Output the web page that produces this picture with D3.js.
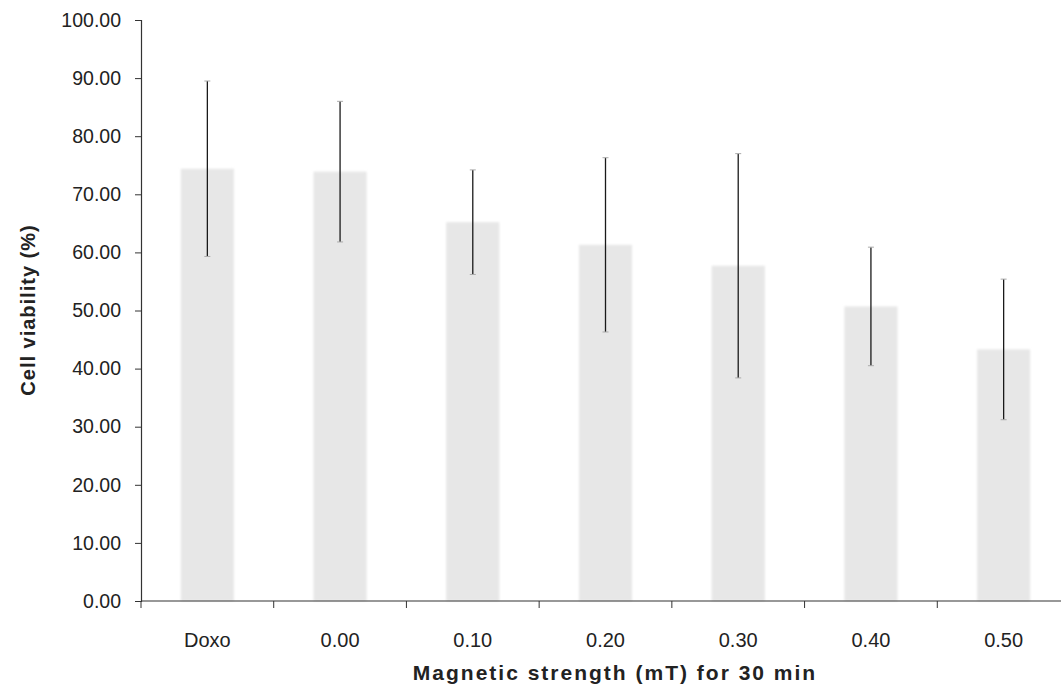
<!DOCTYPE html>
<html>
<head>
<meta charset="utf-8">
<script src="https://cdn.jsdelivr.net/npm/d3@7"></script>
<style>
  html, body { margin: 0; padding: 0; background: #fff; }
  svg { display: block; }
  text { font-family: "Liberation Sans", Arial, sans-serif; fill: #222; }
</style>
</head>
<body>
<svg id="chart" width="1061" height="685"></svg>
<script>
// Cell viability after 30 min magnetic exposure
const categories = ["Doxo", "0.00", "0.10", "0.20", "0.30", "0.40", "0.50"];
const means = [74.4, 73.9, 65.2, 61.3, 57.7, 50.7, 43.3];
const sds = [15.1, 12.1, 9.0, 15.0, 19.3, 10.2, 12.1];
const yTicks = [0, 10, 20, 30, 40, 50, 60, 70, 80, 90, 100];

const svg = d3.select("#chart");
const margin = { left: 141, right: -9, top: 20, bottom: 84 };
const W = 1061, H = 685;

const x = d3.scaleBand()
  .domain(categories)
  .range([margin.left, W - margin.right])
  .paddingInner(0.6)
  .paddingOuter(0.3);

const y = d3.scaleLinear()
  .domain([0, 100])
  .range([H - margin.bottom, margin.top]);

// soft edges on the bars
const defs = svg.append("defs");
defs.append("filter").attr("id", "soft")
  .attr("x", "-10%").attr("y", "-2%").attr("width", "120%").attr("height", "104%")
  .append("feGaussianBlur").attr("stdDeviation", 1);

const data = categories.map((c, i) => ({ c, m: means[i], s: sds[i] }));

// bars
svg.append("g").attr("filter", "url(#soft)")
  .selectAll("rect").data(data).join("rect")
  .attr("x", d => x(d.c))
  .attr("width", x.bandwidth())
  .attr("y", d => y(d.m))
  .attr("height", d => y(0) - y(d.m))
  .attr("fill", "#e7e7e7");

// error bars
const eb = svg.append("g").selectAll("g").data(data).join("g");
eb.append("line")
  .attr("x1", d => x(d.c) + x.bandwidth() / 2)
  .attr("x2", d => x(d.c) + x.bandwidth() / 2)
  .attr("y1", d => y(d.m + d.s))
  .attr("y2", d => y(d.m - d.s))
  .attr("stroke", "#1a1a1a").attr("stroke-width", 1.3);
eb.selectAll("line.cap")
  .data(d => [d.m + d.s, d.m - d.s].map(v => ({ c: d.c, v })))
  .join("line").attr("class", "cap")
  .attr("x1", d => x(d.c) + x.bandwidth() / 2 - 3)
  .attr("x2", d => x(d.c) + x.bandwidth() / 2 + 3)
  .attr("y1", d => y(d.v)).attr("y2", d => y(d.v))
  .attr("stroke", "#aaa").attr("stroke-width", 1);

// y axis
const yAxis = svg.append("g")
  .attr("transform", `translate(${margin.left},0)`)
  .call(d3.axisLeft(y).tickValues(yTicks).tickFormat(d3.format(".2f")).tickSize(6).tickPadding(14));
yAxis.select(".domain").attr("stroke", "#333").attr("stroke-width", 1.2);
yAxis.selectAll(".tick line").attr("stroke", "#333");
yAxis.selectAll(".tick text")
  .style("font-family", "'Liberation Sans', Arial, sans-serif")
  .style("font-size", "19.5px").attr("fill", "#222");

// x axis with ticks at category boundaries
const xAxisG = svg.append("g").attr("transform", `translate(0,${y(0)})`);
xAxisG.append("line")
  .attr("x1", margin.left).attr("x2", W)
  .attr("stroke", "#333").attr("stroke-width", 1.2);
const step = x.step();
const bounds = d3.range(categories.length).map(i => x(categories[i]) - step * 0.3);
xAxisG.selectAll("line.tk").data(bounds).join("line").attr("class", "tk")
  .attr("x1", d => d).attr("x2", d => d)
  .attr("y1", 0).attr("y2", 7)
  .attr("stroke", "#333");
xAxisG.selectAll("text").data(categories).join("text")
  .attr("x", d => x(d) + x.bandwidth() / 2)
  .attr("y", 46)
  .attr("text-anchor", "middle")
  .style("font-size", "20px")
  .text(d => d);

// axis titles
svg.append("text")
  .attr("x", 615).attr("y", 680)
  .attr("text-anchor", "middle")
  .style("font-size", "21px").style("font-weight", "bold")
  .style("letter-spacing", "2px")
  .text("Magnetic strength (mT) for 30 min");

svg.append("text")
  .attr("transform", "translate(35,310) rotate(-90)")
  .attr("text-anchor", "middle")
  .style("font-size", "20px").style("font-weight", "bold")
  .style("letter-spacing", "1px")
  .text("Cell viability (%)");
</script>
</body>
</html>
